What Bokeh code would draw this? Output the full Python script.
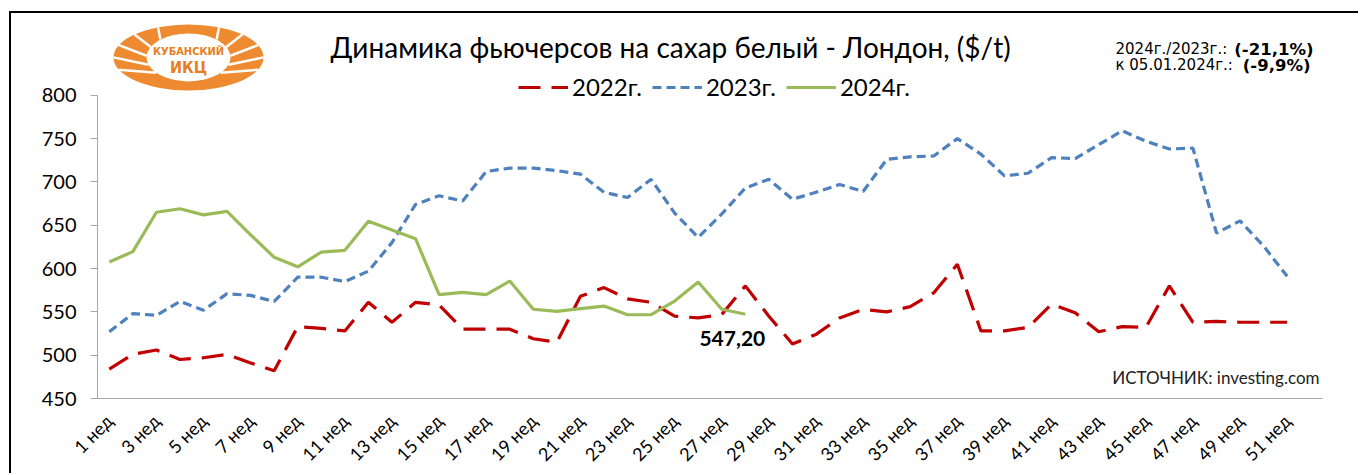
from bokeh.plotting import figure
from bokeh.embed import file_html
from bokeh.resources import INLINE
from bokeh.core.properties import value
from bokeh.models import Range1d, FixedTicker, Legend, LegendItem
import math

# ---------------- data ----------------
week_labels = [f"{i} нед" for i in range(1, 53)]
weeks_2022 = list(range(1, 52))
y2022 = [484, 501, 506, 495, 497, 501, 491, 482, 533, 531, 528, 561, 538, 561, 558,
         530, 530, 530, 519, 515, 568, 578, 565, 561, 545, 543, 547, 580, 545, 513,
         524, 543, 553, 550, 556, 572, 605, 528, 528, 532, 559, 549, 527, 533, 532,
         580, 538, 539, 538, 538, 538]
weeks_2023 = list(range(1, 52))
y2023 = [527, 548, 546, 562, 552, 571, 569, 562, 590, 590, 585, 597, 630, 674, 684,
         678, 712, 716, 716, 713, 709, 688, 682, 703, 664, 636, 663, 693, 703, 680,
         688, 697, 689, 726, 729, 730, 750, 732, 707, 710, 728, 727, 743, 759, 747,
         738, 739, 641, 655, 626, 591]
weeks_2024 = list(range(1, 29))
y2024 = [607.5, 619.5, 665, 669, 662, 666, 639, 613, 602, 619, 621, 654.5, 644.5,
         634.5, 570, 572.5, 570, 585.6, 553, 550.6, 553.7, 556.7, 546.7, 546.7, 562.5,
         584.5, 553, 547.2]
series_names = ["2022г.", "2023г.", "2024г."]
y_ticks = [450, 500, 550, 600, 650, 700, 750, 800]
x_ticks = list(range(1, 52, 2))

title_text = "Динамика фьючерсов на сахар белый - Лондон, ($/t)"
note1_reg, note1_bold = "2024г./2023г.: ", "(-21,1%)"
note2_reg, note2_bold = "к 05.01.2024г.: ", "(-9,9%)"
source_text = "ИСТОЧНИК: investing.com"

# ---------------- layout (page pixels) ----------------
OFF_X, OFF_Y = 11, 13                     # canvas origin on the page (after border)
FRAME_L, FRAME_R, FRAME_T, FRAME_B = 97, 1322, 14, 399
Y0, Y1 = 450, 800
PX_PER_UNIT_Y = (399 - 95) / (Y1 - Y0)
Y_TOP = Y0 + (FRAME_B - FRAME_T) / PX_PER_UNIT_Y
PX_PER_UNIT_X = (FRAME_R - FRAME_L) / 52.0


def dx(px):
    return (px - FRAME_L) / PX_PER_UNIT_X + 0.5


def dy(py):
    return Y0 + (FRAME_B - py) / PX_PER_UNIT_Y


W, H = 1360 - OFF_X, 475 - OFF_Y
p = figure(width=W, height=H, output_backend="svg", toolbar_location=None,
           x_range=Range1d(0.5, 52.5), y_range=Range1d(Y0, Y_TOP),
           min_border_left=FRAME_L - OFF_X, min_border_right=W - (FRAME_R - OFF_X),
           min_border_top=FRAME_T - OFF_Y, min_border_bottom=H - (FRAME_B - OFF_Y))
p.styles = {"margin-left": "9px", "margin-top": "11px",
            "border-left": "2px solid black", "border-top": "2px solid black"}
p.outline_line_color = None
p.xgrid.visible = False
p.ygrid.visible = False
p.background_fill_color = "white"
p.border_fill_color = "white"

AX = "#a6a6a6"
FONT = "Lato"

# y axis
ya = p.yaxis[0]
ya.ticker = FixedTicker(ticks=y_ticks)
ya.bounds = (Y0, Y1)
ya.axis_line_color = AX
ya.major_tick_line_color = AX
ya.major_tick_out = 7
ya.major_tick_in = 0
ya.minor_tick_line_color = None
ya.major_label_standoff = 14
ya.major_label_text_font = FONT
ya.major_label_text_font_size = "20px"
ya.major_label_text_color = "black"

# x axis
xa = p.xaxis[0]
xa.ticker = FixedTicker(ticks=x_ticks)
xa.major_label_overrides = {i: week_labels[i - 1] for i in x_ticks}
xa.major_label_orientation = math.pi / 4
xa.axis_line_color = AX
xa.major_tick_line_color = None
xa.major_tick_out = 0
xa.major_tick_in = 0
xa.minor_tick_line_color = None
xa.major_label_standoff = 19
xa.major_label_text_font = FONT
xa.major_label_text_font_size = "18px"
xa.major_label_text_color = "black"

# series
r22 = p.line(weeks_2022, y2022, line_color="#C00000", line_width=3.2,
             line_dash="22 11")
r23 = p.line(weeks_2023, y2023, line_color="#4F81BD", line_width=3.2,
             line_dash="9 5")
r24 = p.line(weeks_2024, y2024, line_color="#9BBB59", line_width=3.2)

legend = Legend(items=[LegendItem(label=series_names[0], renderers=[r22]),
                       LegendItem(label=series_names[1], renderers=[r23]),
                       LegendItem(label=series_names[2], renderers=[r24])],
                orientation="horizontal", location=(421, 297),
                glyph_width=50, glyph_height=20, label_standoff=4, spacing=10,
                padding=0, margin=0, border_line_color=None,
                background_fill_alpha=0,
                label_text_font=FONT, label_text_font_size="24px",
                label_text_color="black")
p.add_layout(legend)

# last value label
last_x, last_y = weeks_2024[-1], y2024[-1]
p.text(x=[last_x], y=[last_y], text=[f"{last_y:.2f}".replace(".", ",")],
       x_offset=-13, y_offset=24, text_align="center", text_baseline="middle",
       text_font=value(FONT), text_font_style="bold", text_font_size="21px",
       text_color="black")

# title
p.text(x=[dx(670)], y=[dy(47)], text=[title_text], text_align="center",
       text_baseline="middle", text_font=value(FONT), text_font_size="28px",
       text_color="black")

# notes top-right
NOTE_FONT = "DejaVu Sans"
p.text(x=[dx(1115), dx(1115)], y=[dy(49), dy(65)], text=[note1_reg, note2_reg],
       text_align="left", text_baseline="middle", text_font=value(NOTE_FONT),
       text_font_size="15px", text_color="black")
p.text(x=[dx(1313), dx(1310)], y=[dy(49), dy(65)], text=[note1_bold, note2_bold],
       text_align="right", text_baseline="middle", text_font=value(NOTE_FONT),
       text_font_style="bold", text_font_size="16.5px", text_color="black")

# source
p.text(x=[dx(1319)], y=[dy(378)], text=[source_text], text_align="right",
       text_baseline="middle", text_font=value(FONT), text_font_size="17px",
       text_color="#222222")

# logo (decorative)
LCX, LCY = 188, 57
lx, ly = dx(LCX), dy(LCY)
p.ellipse(x=[lx], y=[ly], width=150, height=66, width_units="screen",
          height_units="screen", fill_color="#EE8B30", line_color=None)
stripe_x0, stripe_y0, stripe_x1, stripe_y1 = [], [], [], []
for side in (1, -1):
    for ang in (-40, -18, 4, 26, 48):
        a0 = math.radians(ang)
        a1 = math.radians(ang + 18)
        x0 = LCX + side * 42 * math.cos(a0)
        y0 = LCY - 24 * math.sin(a0)
        x1 = LCX + side * 75 * math.cos(a1)
        y1 = LCY - 33 * math.sin(a1)
        stripe_x0.append(dx(x0)); stripe_y0.append(dy(y0))
        stripe_x1.append(dx(x1)); stripe_y1.append(dy(y1))
p.segment(x0=stripe_x0, y0=stripe_y0, x1=stripe_x1, y1=stripe_y1,
          line_color="white", line_width=2.5)
p.ellipse(x=[lx], y=[ly], width=84, height=48, width_units="screen",
          height_units="screen", fill_color="white", line_color=None)
p.text(x=[lx], y=[dy(51)], text=["КУБАНСКИЙ"], text_align="center",
       text_baseline="middle", text_font=value("DejaVu Sans Condensed"),
       text_font_style="bold", text_font_size="11px", text_color="#E67E22")
p.text(x=[lx], y=[dy(67)], text=["ИКЦ"], text_align="center",
       text_baseline="middle", text_font=value("DejaVu Sans Condensed"),
       text_font_style="bold", text_font_size="16px", text_color="#E67E22")

open("out.html", "w").write(file_html(p, INLINE))
